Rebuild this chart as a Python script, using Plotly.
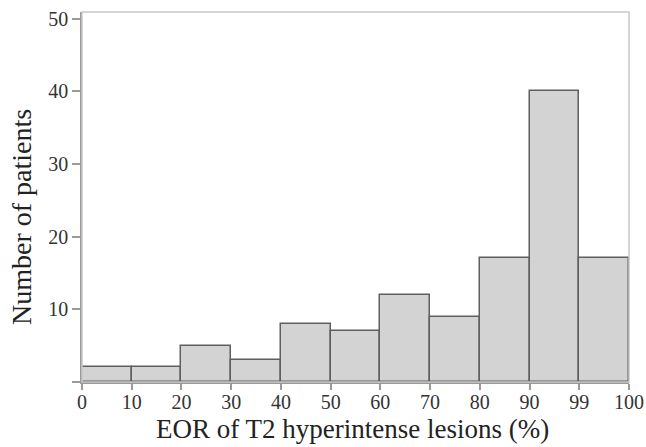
import plotly.graph_objects as go

bin_labels = ["0", "10", "20", "30", "40", "50", "60", "70", "80", "90", "99", "100"]
counts = [2, 2, 5, 3, 8, 7, 12, 9, 17, 40, 17]
y_ticks = [0, 10, 20, 30, 40, 50]
y_ticktext = ["", "10", "20", "30", "40", "50"]
x_title = "EOR of T2 hyperintense lesions (%)"
y_title = "Number of patients"

centers = [i + 0.5 for i in range(len(counts))]

fig = go.Figure()
fig.add_trace(go.Bar(
    x=centers, y=counts, width=1,
    marker=dict(color="#d3d3d3", line=dict(color="#5f5f5f", width=1.5)),
    hoverinfo="skip",
))

font = "Liberation Serif, Times New Roman, serif"
fig.update_layout(
    width=646, height=447,
    margin=dict(l=82, r=17, t=12, b=65, autoexpand=False),
    paper_bgcolor="white", plot_bgcolor="white",
    showlegend=False, bargap=0,
    font=dict(family=font, color="#333333", size=20),
    shapes=[dict(type="rect", xref="paper", yref="paper", x0=0, x1=1, y0=0, y1=1,
                 line=dict(color="#c8c8c8", width=1.5), layer="above")],
    annotations=[
        dict(text=x_title, xref="paper", yref="paper", x=0.495, y=0, yshift=-47,
             showarrow=False, xanchor="center", yanchor="middle", borderpad=0,
             font=dict(size=27, family=font, color="#222222")),
        dict(text=y_title, xref="paper", yref="paper", x=0, xshift=-60, y=0.446,
             showarrow=False, xanchor="center", yanchor="middle", textangle=-90,
             font=dict(size=28, family=font, color="#222222")),
    ],
)
fig.update_xaxes(
    range=[0, len(counts)],
    tickvals=list(range(len(bin_labels))), ticktext=bin_labels,
    ticks="outside", ticklen=6, tickwidth=1.5, tickcolor="#9a9a9a",
    ticklabelstandoff=-5,
    showline=True, linecolor="#9a9a9a", linewidth=1.5,
    showgrid=False, zeroline=False, automargin=False,
    tickfont=dict(size=20, family=font, color="#333333"),
)
fig.update_yaxes(
    range=[0, 50.9],
    tickvals=y_ticks, ticktext=y_ticktext,
    ticks="outside", ticklen=8, tickwidth=1.5, tickcolor="#9a9a9a",
    showline=True, linecolor="#9a9a9a", linewidth=1.5,
    showgrid=False, zeroline=False, automargin=False,
    tickfont=dict(size=20, family=font, color="#333333"),
)

fig.write_html("out.html")
